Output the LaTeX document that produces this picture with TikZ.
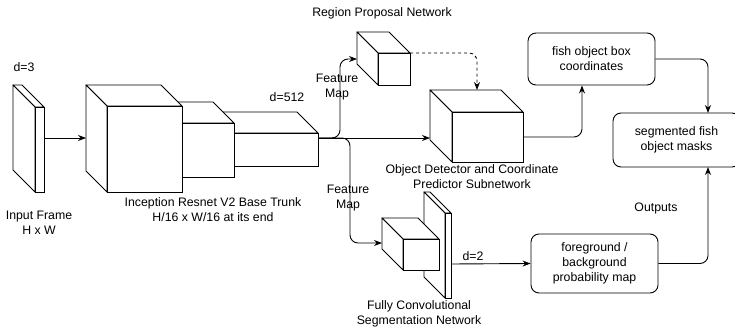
\documentclass[tikz,border=0pt]{standalone}
\usepackage{fontspec}
\setmainfont{Liberation Sans}
\usepackage{tikz}
\usetikzlibrary{arrows.meta,calc}

\tikzset{
  face/.style={draw, fill=white, inner sep=0pt, outer sep=0pt},
  outbox/.style={draw, rounded corners=8pt, align=center, minimum width=127pt, inner sep=2pt},
  lbl/.style={align=center, inner sep=0pt},
  arr/.style={-{Stealth[length=8pt,width=6pt]}, rounded corners=8pt},
}

% name, front face x1 y1 x2 y2, depth
\newcommand{\cuboid}[6]{%
  \filldraw[fill=white, line join=round] (#2,#3) -- ++(-#6,-#6) -- ++(#4-#2,0) -- (#4,#3) -- cycle;
  \filldraw[fill=white, line join=round] (#2,#3) -- ++(-#6,-#6) -- ++(0,#5-#3) -- (#2,#5) -- cycle;
  \node[face, minimum width={(#4-#2)*1pt}, minimum height={(#5-#3)*1pt}] (#1) at ({(#2+#4)/2},{(#3+#5)/2}) {};
}

\begin{document}
\begin{tikzpicture}[x=1pt, y=-1pt, line width=0.9pt, font=\fontsize{12.3}{15}\selectfont]
  \useasboundingbox (0,0) rectangle (735,329);
  \clip (0,0) rectangle (735,329);

  % blocks
  \cuboid{inp}{35}{107}{44}{192}{22}
  \cuboid{trunkc}{234}{133}{318}{166}{21}
  \cuboid{trunkb}{182}{123}{234}{177}{21}
  \cuboid{trunka}{107}{106}{182}{192}{21}
  \cuboid{rpn}{378}{53}{410}{85}{21}
  \cuboid{det}{452}{112}{523}{162}{22}
  \cuboid{plate}{445}{213}{451}{298}{21}
  \cuboid{fcn}{403}{239}{439}{270}{21}

  \node[outbox, minimum height=52pt] (coord) at (591.5,59) {fish object box\\coordinates};
  \node[outbox, minimum height=54pt] (masks) at (676.5,140) {segmented fish\\object masks};
  \node[outbox, minimum height=59pt] (prob) at (594.5,263.5) {foreground /\\background\\probability map};

  % ports
  \coordinate (inp out) at (44,138);
  \coordinate (trunk in) at (86,138);
  \coordinate (trunk out) at (318,138);
  \coordinate (det in) at (430,138);
  \coordinate (det top) at (477,90);
  \coordinate (rpn in) at (357,59);
  \coordinate (fcn in) at (382,243);
  \coordinate (fcn out) at (451,264);
  \coordinate (masks top) at (708,113);
  \coordinate (masks bot) at (708,167);

  % connectors
  \draw[arr] (inp out) -- (trunk in);
  \draw[arr] (trunk out) -- (det in);
  \draw[arr] (trunk out) -- ++(22,0) |- (rpn in);
  \draw[arr] (trunk out) -- ++(32,0) |- (fcn in);
  \draw[arr, dash pattern=on 3pt off 3pt] (rpn.north east) -| (det top);
  \draw[arr] (det.east) -| ($(coord.south)+(-9.5,0)$);
  \draw[arr] (coord.east) -| (masks top);
  \draw[arr] (fcn out) -- (prob.west);
  \draw[arr] (prob.east) -| (masks bot);

  % labels
  \node[lbl] (d3) at (24,67) {d=3};
  \node[lbl] (inplbl) at (39,223) {Input Frame\\H x W};
  \node[lbl] (trunklbl) at (213,209.5) {Inception Resnet V2 Base Trunk\\H/16 x W/16 at its end};
  \node[lbl] (d512) at (287,97) {d=512};
  \node[lbl] (fmup) at (337,87) {Feature\\Map};
  \node[lbl] (fmdown) at (348,198) {Feature\\Map};
  \node[lbl] (rpnlbl) at (382,13) {Region Proposal Network};
  \node[lbl] (detlbl) at (472,176.5) {Object Detector and Coordinate\\Predictor Subnetwork};
  \node[lbl] (fcnlbl) at (419,314) {Fully Convolutional\\Segmentation Network};
  \node[lbl] (d2) at (473,256) {d=2};
  \node[lbl] (outlbl) at (656,208) {Outputs};

\end{tikzpicture}
\end{document}
